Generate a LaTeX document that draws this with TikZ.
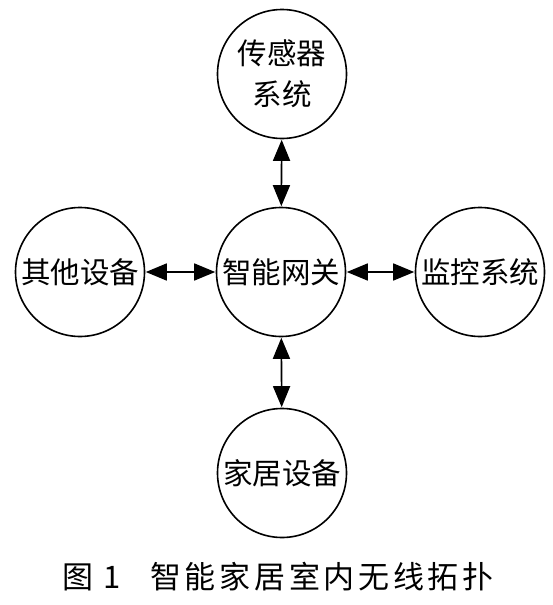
\documentclass[tikz,border=0pt]{standalone}
\usepackage{fontspec}
\setmainfont{Liberation Serif}
\newfontfamily\cjk{Noto Sans CJK SC}[LetterSpace=12]
\newfontfamily\cjknode{Noto Sans CJK SC}
\usetikzlibrary{arrows.meta}
\tikzset{
  unit/.style={circle,draw,line width=1.6pt,minimum size=129pt,inner sep=0pt,font=\cjknode\fontsize{29.5}{40}\selectfont,align=center},
  link/.style={line width=1.6pt,{Triangle[length=21pt,width=17pt]}-{Triangle[length=21pt,width=17pt]},shorten <=0.5pt,shorten >=0.5pt}
}
\begin{document}
\begin{tikzpicture}[x=1pt,y=-1pt]
\useasboundingbox (0,0) rectangle (552,605);
\node[unit] (top) at (282,74) {传感器\\[1pt]系统};
\node[unit] (gw) at (281,272) {智能网关};
\node[unit] (left) at (80,272) {其他设备};
\node[unit] (right) at (480,272) {监控系统};
\node[unit] (bot) at (282,473) {家居设备};
\draw[link] (top) -- (gw);
\draw[link] (left) -- (gw);
\draw[link] (gw) -- (right);
\draw[link] (gw) -- (bot);
\node[font=\cjknode\fontsize{31}{34}\selectfont,anchor=west,inner sep=0pt] (fig) at (62,577) {图\hspace{10pt}1};
\node[font=\cjk\fontsize{31}{34}\selectfont,anchor=west,inner sep=0pt] (cap) at (150,577) {智能家居室内无线拓扑};
\end{tikzpicture}
\end{document}
